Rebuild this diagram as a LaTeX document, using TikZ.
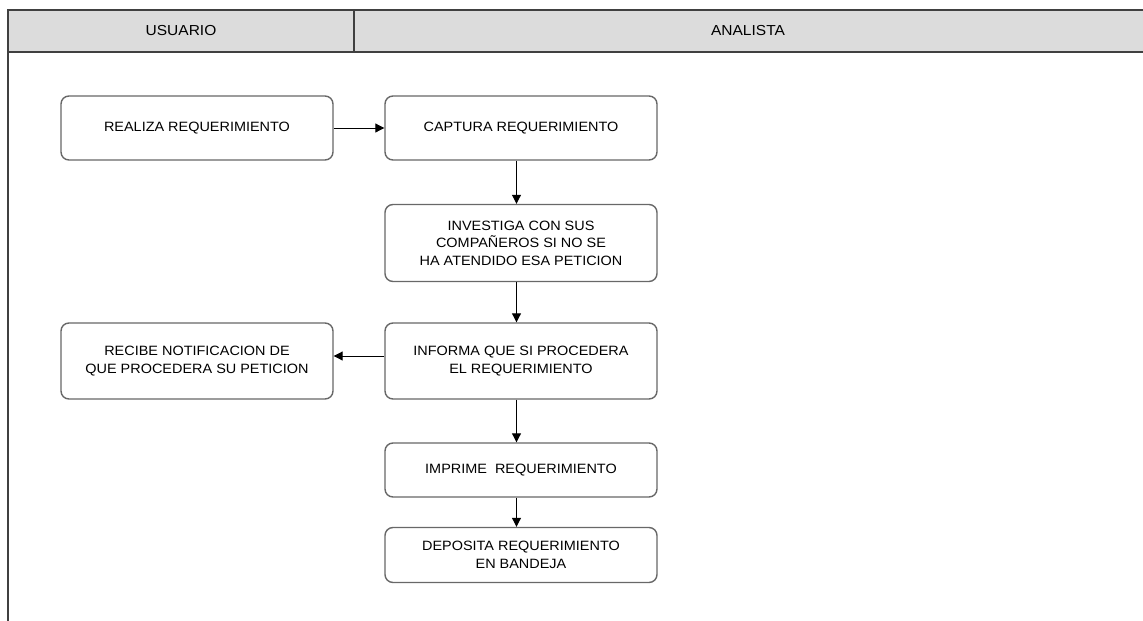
\documentclass[tikz,border=0pt]{standalone}
\usepackage{fontspec}
\setmainfont{Liberation Sans}
\newfontfamily\stepfont[FakeStretch=1.07]{Liberation Sans}
\usetikzlibrary{arrows.meta}
\definecolor{headfill}{HTML}{DCDCDC}
\definecolor{laneline}{HTML}{404040}
\definecolor{boxline}{HTML}{686868}
\begin{document}
\begin{tikzpicture}[x=1pt,y=-1pt,
  stepbox/.style={draw=boxline, line width=1.4pt, rounded corners=8pt,
    minimum width=272pt, align=center, inner sep=0pt,
    font=\stepfont\fontsize{13.5}{17.5}\selectfont},
  flow/.style={draw=black, line width=1pt, -{Triangle[length=9pt,width=9pt]}},
  lanetitle/.style={font=\stepfont\fontsize{14.5}{17}\selectfont}]
\useasboundingbox (0,0) rectangle (1143,621);
\fill[white] (0,0) rectangle (1143,621);

% lane header
\fill[headfill] (8,10) rectangle (1143,52);
\draw[laneline, line width=1.8pt] (1143,10) -- (8,10) -- (8,621);
\draw[laneline, line width=1.8pt] (8,52) -- (1143,52);
\draw[laneline, line width=1.8pt] (354,10) -- (354,52);
\node[lanetitle] (usuario) at (181,31) {USUARIO};
\node[lanetitle] (analista) at (748,31) {ANALISTA};

% process steps
\node[stepbox, minimum height=64pt] (realiza) at (197,128) {REALIZA REQUERIMIENTO};
\node[stepbox, minimum height=64pt] (captura) at (521,128) {CAPTURA REQUERIMIENTO};
\node[stepbox, minimum height=77pt] (investiga) at (521,243)
  {INVESTIGA CON SUS\\COMPAÑEROS SI NO SE\\HA ATENDIDO ESA PETICION};
\node[stepbox, minimum height=76pt] (informa) at (521,361)
  {INFORMA QUE SI PROCEDERA\\EL REQUERIMIENTO};
\node[stepbox, minimum height=76pt] (recibe) at (197,361)
  {RECIBE NOTIFICACION DE\\QUE PROCEDERA SU PETICION};
\node[stepbox, minimum height=54pt] (imprime) at (521,470) {IMPRIME~ REQUERIMIENTO};
\node[stepbox, minimum height=55pt] (deposita) at (521,555)
  {DEPOSITA REQUERIMIENTO\\EN BANDEJA};

% connectors
\draw[flow] (realiza.east) -- (captura.west);
\draw[flow] ([xshift=-4.5pt]captura.south) -- ([xshift=-4.5pt]investiga.north);
\draw[flow] ([xshift=-4.5pt]investiga.south) -- ([xshift=-4.5pt]informa.north);
\draw[flow] ([yshift=5pt]informa.west) -- ([yshift=5pt]recibe.east);
\draw[flow] ([xshift=-4.5pt]informa.south) -- ([xshift=-4.5pt]imprime.north);
\draw[flow] ([xshift=-4.5pt]imprime.south) -- ([xshift=-4.5pt]deposita.north);
\end{tikzpicture}
\end{document}
